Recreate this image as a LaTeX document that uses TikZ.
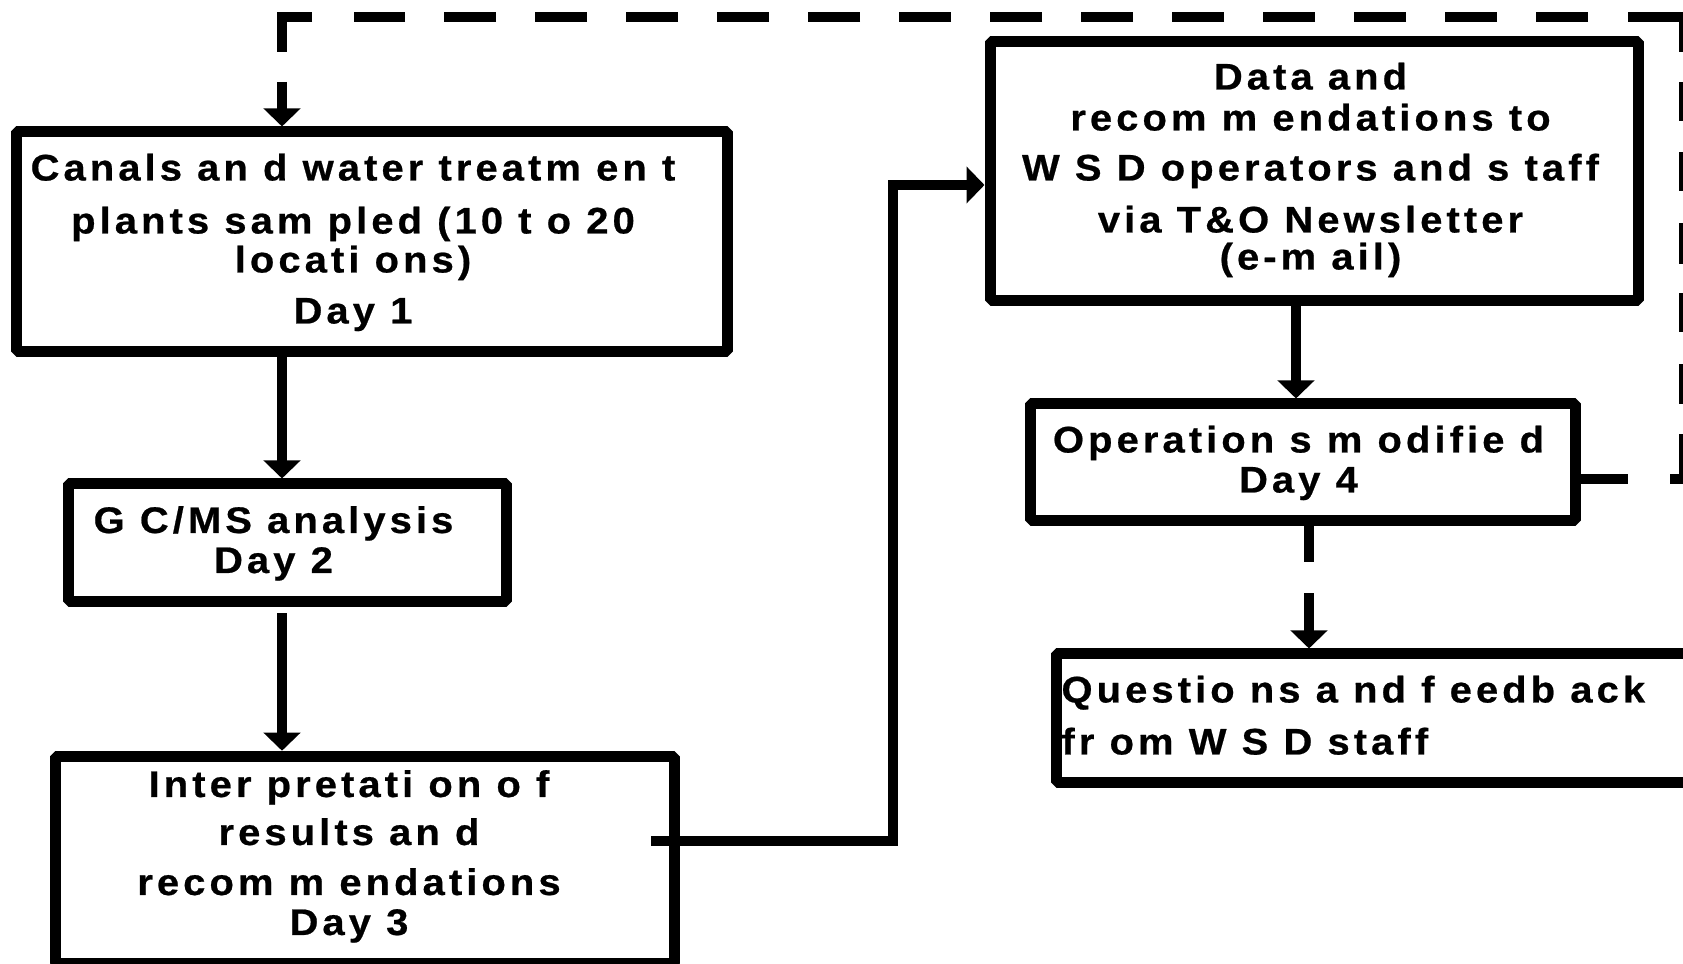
\documentclass[tikz,border=0pt]{standalone}
\usepackage{fontspec}
\setmainfont{Liberation Sans}
\newfontfamily\boxfont{Liberation Sans Bold}[FakeStretch=1.08, FakeBold=0.6, LetterSpace=11]
\usetikzlibrary{arrows.meta,calc}

\begin{document}
\begin{tikzpicture}[x=0.1mm, y=-0.1mm,
  box/.style={draw, line width=1.1mm, line join=bevel, inner sep=0pt,
    font=\boxfont\fontsize{3.7mm}{4mm}\selectfont},
  flow/.style={line width=1.05mm, line join=miter,
    -{Triangle[width=3.6mm,length=1.8mm]}},
]
% page frame
\useasboundingbox (0,0) rectangle (1683,964);
\clip (0,0) rectangle (1683,964);
\fill[white] (0,0) rectangle (1683,964);

% process boxes
\node[box, minimum width=71.2mm, minimum height=22mm] (box1) at (372,242)
  {\begin{tabular}{@{}c@{\hspace{3.8mm}}}
   Canals an d water treatm en t\\[1.3mm]
   plants sam pled (10 t o 20\\[-0.1mm]
   locati ons)\\[1.1mm]
   Day 1\\[-0.4mm]
   \end{tabular}};

\node[box, minimum width=43.9mm, minimum height=11.8mm] (box2) at (287.5,543)
  {\begin{tabular}{@{}c@{\hspace{2.8mm}}}
   G C/MS analysis\\
   Day 2\\[-0.4mm]
   \end{tabular}};

\node[box, minimum width=62mm, minimum height=20.75mm] (box3) at (365,860)
  {\begin{tabular}{@{}c@{\hspace{3.2mm}}}
   Inter pretati on o f\\[0.8mm]
   results an d\\[1mm]
   recom m endations\\
   Day 3\\[0.4mm]
   \end{tabular}};

\node[box, minimum width=64.8mm, minimum height=25.9mm] (box4) at (1314,171.5)
  {\begin{tabular}{@{}c@{\hspace{0.7mm}}}
   Data and\\[0.1mm]
   recom m endations to\\[1mm]
   W S D operators and s taff\\[1.2mm]
   via T\&O Newsletter\\[-0.3mm]
   (e-m ail)
   \end{tabular}};

\node[box, minimum width=54.5mm, minimum height=11.7mm] (box5) at (1302.5,462.5)
  {\begin{tabular}{@{}c@{\hspace{0.8mm}}}
   Operation s m odifie d\\
   Day 4\\[-0.4mm]
   \end{tabular}};

\node[box, inner xsep=0.55mm, minimum width=76.4mm, minimum height=12.9mm] (box6) at (1438,718.5)
  {\makebox[75.3mm][l]{\begin{tabular}{@{}l@{}}
   Questio ns a nd f eedb ack\\[1.2mm]
   fr om W S D staff\\[-0.4mm]
   \end{tabular}}};

% connector columns and bends
\coordinate (xL) at (282,0);
\coordinate (x45) at (1296,0);
\coordinate (x56) at (1309,0);
\coordinate (p34) at (651,841);
\coordinate (q34) at (893,185);
\coordinate (fbE) at (1684,479);
\coordinate (fbN) at (1684,17);

% main flow
\draw[flow] (xL |- box1.south) -- (xL |- box2.north);
\draw[flow] ($(xL |- box2.south)+(0,6)$) -- (xL |- box3.north);
\draw[flow] (p34) -| (q34) -- (q34 -| box4.west);
\draw[flow] (x45 |- box4.south) -- (x45 |- box5.north);
\draw[flow, dash pattern=on 3.6mm off 3.1mm on 20mm]
  (x56 |- box5.south) -- (x56 |- box6.north);

% feedback loop back to sampling
\draw[flow, dash pattern=on 4.7mm off 4.25mm on 5.9mm off 3mm on 4mm off 3.2mm
  on 3.9mm off 2.9mm on 4.1mm off 3.2mm on 3.9mm off 3.1mm on 3.9mm off 3mm
  on 9.1mm off 4mm
  on 5.2mm off 3.9mm on 5.2mm off 3.9mm on 5.2mm off 3.9mm on 5.2mm off 3.9mm
  on 5.2mm off 3.9mm on 5.2mm off 3.9mm on 5.2mm off 3.9mm on 5.2mm off 3.9mm
  on 5.2mm off 3.9mm on 5.2mm off 3.9mm on 5.2mm off 3.9mm on 5.2mm off 3.9mm
  on 5.2mm off 3.9mm
  on 5.1mm off 4.2mm on 6.5mm off 3mm on 20mm]
  (fbE -| box5.east) -- (fbE) -- (fbN) -- (xL |- fbN) -- (xL |- box1.north);
\end{tikzpicture}
\end{document}
